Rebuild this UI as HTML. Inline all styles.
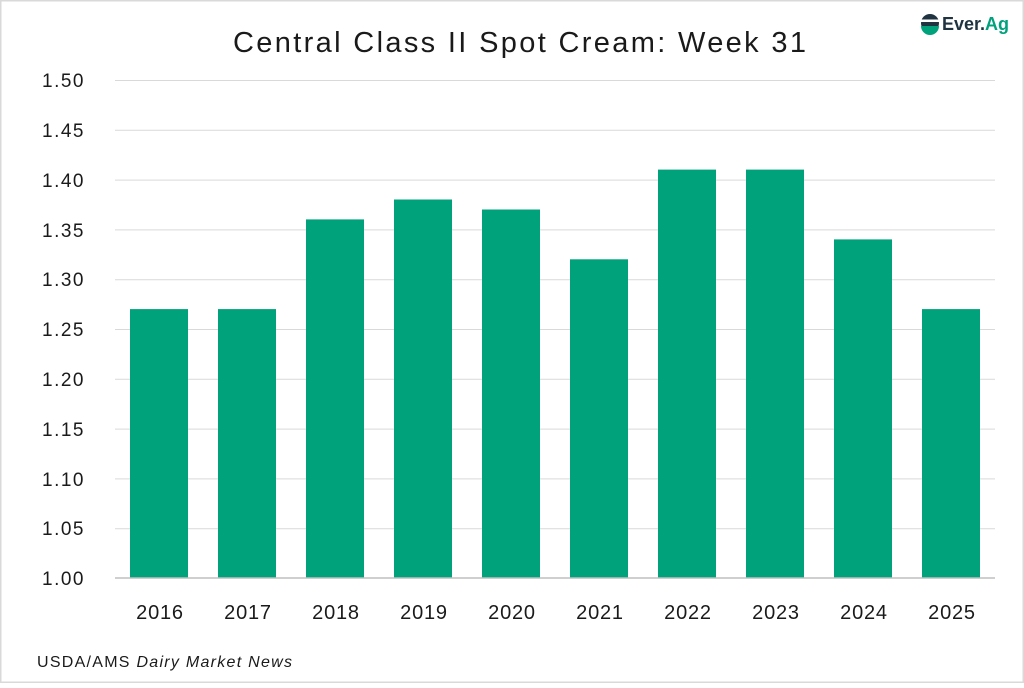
<!DOCTYPE html>
<html><head><style>
body{margin:0;background:#fff}
svg text{font-family:"Liberation Sans",sans-serif;fill:#1a1a1a}
</style></head><body>
<svg width="1024" height="683" xmlns="http://www.w3.org/2000/svg">
<rect x="0.75" y="0.75" width="1022.5" height="681.5" fill="#fff" stroke="#d9d9d9" stroke-width="1.5"/>
<text x="233" y="52" font-size="29" textLength="573" lengthAdjust="spacing">Central Class II Spot Cream: Week 31</text>
<g stroke="#d9d9d9" stroke-width="1">
<line x1="115" x2="995" y1="80.5" y2="80.5"/>
<line x1="115" x2="995" y1="130.3" y2="130.3"/>
<line x1="115" x2="995" y1="180.1" y2="180.1"/>
<line x1="115" x2="995" y1="229.9" y2="229.9"/>
<line x1="115" x2="995" y1="279.7" y2="279.7"/>
<line x1="115" x2="995" y1="329.5" y2="329.5"/>
<line x1="115" x2="995" y1="379.3" y2="379.3"/>
<line x1="115" x2="995" y1="429.1" y2="429.1"/>
<line x1="115" x2="995" y1="478.9" y2="478.9"/>
<line x1="115" x2="995" y1="528.7" y2="528.7"/>
</g>
<g fill="#00a27c">
<rect x="130" y="309.1" width="58" height="268.9"/>
<rect x="218" y="309.1" width="58" height="268.9"/>
<rect x="306" y="219.4" width="58" height="358.6"/>
<rect x="394" y="199.5" width="58" height="378.5"/>
<rect x="482" y="209.5" width="58" height="368.5"/>
<rect x="570" y="259.3" width="58" height="318.7"/>
<rect x="658" y="169.6" width="58" height="408.4"/>
<rect x="746" y="169.6" width="58" height="408.4"/>
<rect x="834" y="239.4" width="58" height="338.6"/>
<rect x="922" y="309.1" width="58" height="268.9"/>
</g>
<line x1="115" x2="995" y1="578" y2="578" stroke="#bfbfbf" stroke-width="1.5"/>
<g font-size="19" letter-spacing="1.5" text-anchor="end">
<text x="85" y="87">1.50</text>
<text x="85" y="137">1.45</text>
<text x="85" y="187">1.40</text>
<text x="85" y="237">1.35</text>
<text x="85" y="286">1.30</text>
<text x="85" y="336">1.25</text>
<text x="85" y="386">1.20</text>
<text x="85" y="436">1.15</text>
<text x="85" y="486">1.10</text>
<text x="85" y="535">1.05</text>
<text x="85" y="585">1.00</text>
</g>
<g font-size="20" letter-spacing="0.8" text-anchor="middle">
<text x="160" y="619">2016</text><text x="248" y="619">2017</text><text x="336" y="619">2018</text>
<text x="424" y="619">2019</text><text x="512" y="619">2020</text><text x="600" y="619">2021</text>
<text x="688" y="619">2022</text><text x="776" y="619">2023</text><text x="864" y="619">2024</text>
<text x="952" y="619">2025</text>
</g>
<text x="37" y="667" font-size="16" textLength="255" lengthAdjust="spacing">USDA/AMS <tspan font-style="italic">Dairy Market News</tspan></text>
<g>
<circle cx="930" cy="23" r="9" fill="#1f3340"/>
<rect x="921" y="19.5" width="18" height="2.5" fill="#fff"/>
<path d="M921 26 h18 a9 9 0 0 1 -18 0z" fill="#00a27c"/>
<text x="942" y="30" font-size="18" font-weight="bold" style="fill:#1f3340">Ever.<tspan style="fill:#00a27c">Ag</tspan></text>
</g>
</svg>
</body></html>
